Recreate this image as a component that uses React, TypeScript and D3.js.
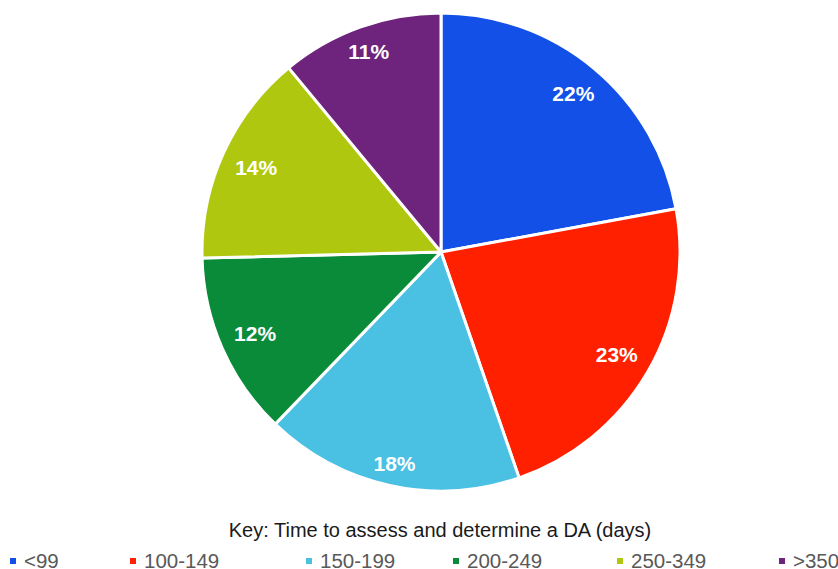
import React from "react";
import * as d3 from "d3";

const categories = ["<99", "100-149", "150-199", "200-249", "250-349", ">350"];
const values = [22.1, 22.6, 17.5, 12.4, 14.4, 11.0];
const colors = ["#1250e8", "#ff2000", "#4ac0e2", "#098b3a", "#afc80f", "#6e237d"];
const legendTitle = "Key: Time to assess and determine a DA (days)";

const W = 838;
const H = 569;
const CX = 441;
const CY = 252;
const R = 239;
const legendX = [10, 130, 306, 453, 617, 779];

export default function App() {
  const pie = d3.pie<number>().sort(null).value((d) => d)(values);
  const arc = d3.arc<d3.PieArcDatum<number>>().innerRadius(0).outerRadius(R);
  const total = d3.sum(values);

  const labelPos = (d: d3.PieArcDatum<number>) => {
    const mid = (d.startAngle + d.endAngle) / 2;
    const s = Math.abs(Math.sin(mid));
    const c = Math.abs(Math.cos(mid));
    const a = 30, b = 11, Rin = 235;
    const k = a * s + b * c;
    const r = -k + Math.sqrt(k * k - (a * a + b * b - Rin * Rin));
    return [r * Math.sin(mid), -r * Math.cos(mid)];
  };

  return (
    <svg width={W} height={H} style={{ position: "absolute", left: 0, top: 0, fontFamily: "'Liberation Sans', Arial, sans-serif" }}>
      <rect width={W} height={H} fill="#ffffff" />
      <g transform={`translate(${CX},${CY})`}>
        {pie.map((d, i) => (
          <path key={i} d={arc(d) || ""} fill={colors[i]} stroke="#ffffff" strokeWidth={3} strokeLinejoin="round" />
        ))}
        {pie.map((d, i) => {
          const [x, y] = labelPos(d);
          return (
            <text key={"l" + i} x={x} y={y} dy="0.36em" textAnchor="middle" fill="#ffffff" fontWeight="bold" fontSize={21}>
              {Math.round((d.data / total) * 100) + "%"}
            </text>
          );
        })}
      </g>
      <text x={440} y={537} textAnchor="middle" fontSize={20} fill="#1a1a1a">{legendTitle}</text>
      {categories.map((c, i) => (
        <g key={"k" + i}>
          <rect x={legendX[i]} y={558} width={6} height={6} fill={colors[i]} />
          <text x={legendX[i] + 14} y={568} fontSize={20.5} fill="#595959">{c}</text>
        </g>
      ))}
    </svg>
  );
}
